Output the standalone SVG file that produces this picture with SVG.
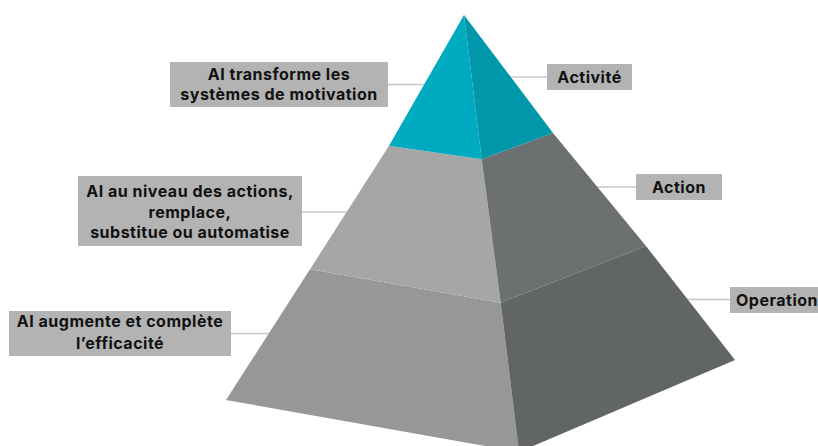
<svg xmlns="http://www.w3.org/2000/svg" width="818" height="446" viewBox="0 0 818 446">
<style>
.box{fill:#b3b3b3}
.lbl{font-family:Inter,"Liberation Sans",Arial,sans-serif;font-weight:700;font-size:16px;letter-spacing:0.5px;fill:#111;text-anchor:middle}
.conn{stroke:#c8c8c8;stroke-width:1.5;fill:none}
</style>
<rect width="818" height="446" fill="#ffffff"/>
<g id="connectors">
<line class="conn" x1="388" y1="84.5" x2="425" y2="84.5"/>
<line class="conn" x1="511" y1="77" x2="547" y2="77"/>
<line class="conn" x1="302" y1="212" x2="348" y2="212"/>
<line class="conn" x1="597" y1="187" x2="636" y2="187"/>
<line class="conn" x1="231" y1="333.5" x2="270" y2="333.5"/>
<line class="conn" x1="687" y1="299.5" x2="730" y2="299.5"/>
</g>
<g id="pyramid">
<polygon id="tier-bottom-left" points="310,269.3 500.7,302.7 519,452 226,400" fill="#979797"/>
<polygon id="tier-bottom-right" points="500.7,302.7 646,246 735,360 519,452" fill="#626565"/>
<polygon id="tier-mid-left" points="389,145.7 481.7,159.3 500.7,302.7 310,269.3" fill="#a6a6a6"/>
<polygon id="tier-mid-right" points="481.7,159.3 553,133 646,246 500.7,302.7" fill="#6d7070"/>
<polygon id="tier-top-left" points="464,15 481.7,159.3 389,145.7" fill="#00aac0"/>
<polygon id="tier-top-right" points="464,15 553,133 481.7,159.3" fill="#0097ab"/>
</g>
<g id="label-motivation">
<rect class="box" x="170" y="62" width="218" height="45"/>
<text class="lbl" x="279" y="79.5">AI transforme les</text>
<text class="lbl" x="279" y="99.5">systèmes de motivation</text>
</g>
<g id="label-actions">
<rect class="box" x="78" y="176" width="224" height="70"/>
<text class="lbl" x="190" y="197">AI au niveau des actions,</text>
<text class="lbl" x="190" y="217.5">remplace,</text>
<text class="lbl" x="190" y="238">substitue ou automatise</text>
</g>
<g id="label-efficacite">
<rect class="box" x="9" y="311" width="222" height="45"/>
<text class="lbl" x="120" y="327">AI augmente et complète</text>
<text class="lbl" x="120" y="349">l’efficacité</text>
</g>
<g id="label-activite">
<rect class="box" x="547" y="64" width="85" height="26"/>
<text class="lbl" x="589.5" y="82.5">Activité</text>
</g>
<g id="label-action">
<rect class="box" x="636" y="174" width="86" height="26"/>
<text class="lbl" x="679" y="192.5">Action</text>
</g>
<g id="label-operation">
<rect class="box" x="730" y="287" width="90" height="26"/>
<text class="lbl" x="777" y="305.5">Operation</text>
</g>
</svg>
